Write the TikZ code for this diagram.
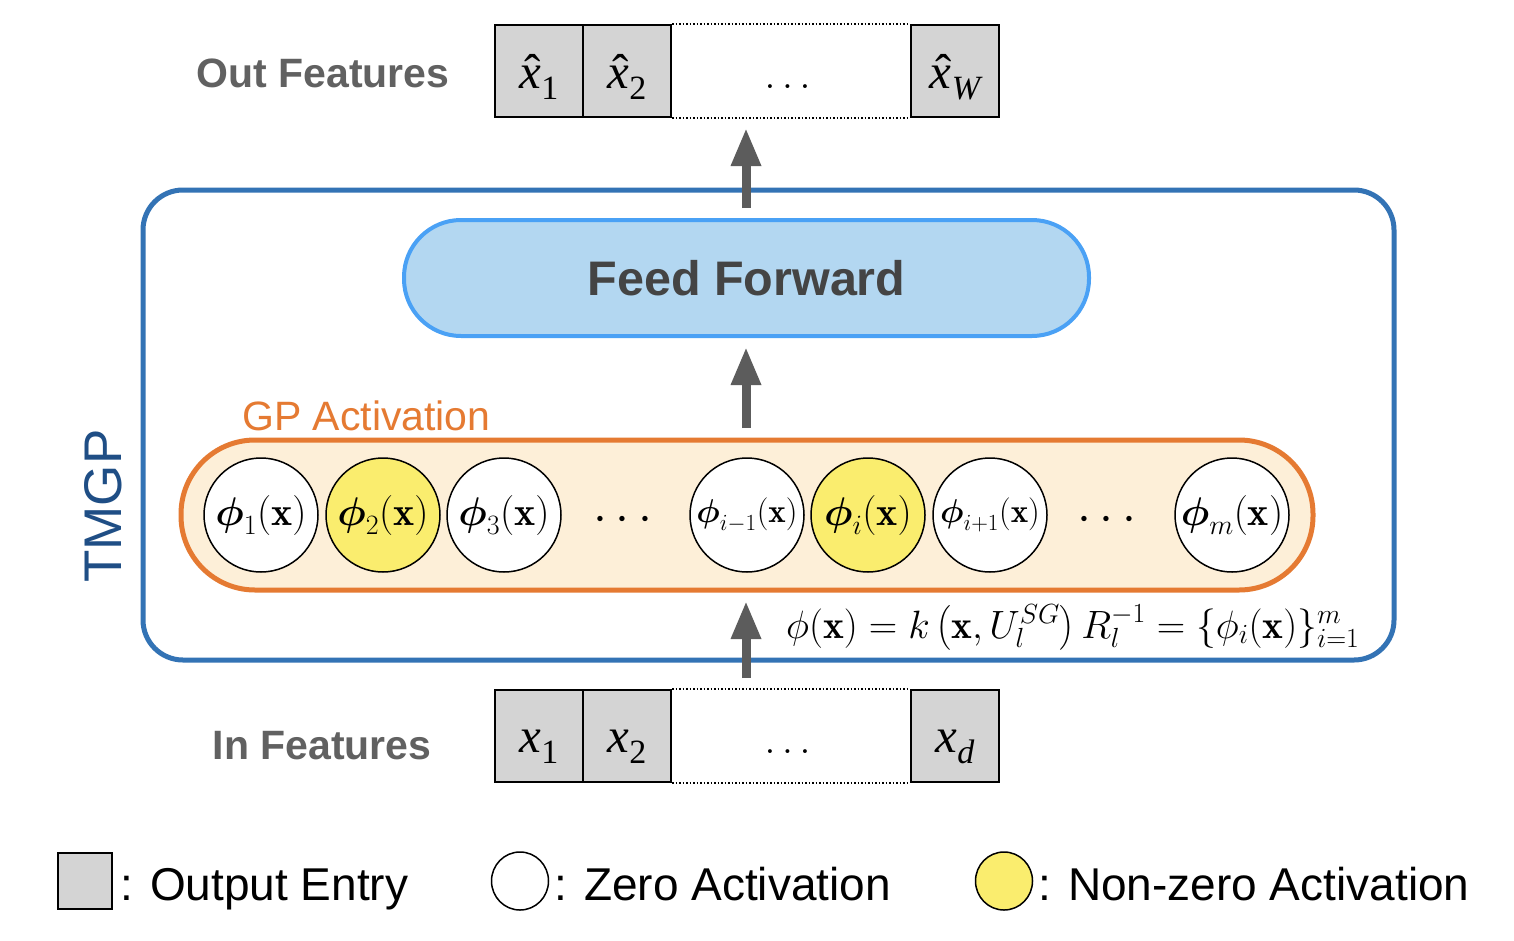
\RequirePackage{fix-cm}
\documentclass[tikz,border=0pt]{standalone}
\usepackage{amsmath}
\usepackage{fontspec}
\newfontfamily\sansf{Liberation Sans}
\newfontfamily\libser{Liberation Serif}
\usetikzlibrary{arrows.meta,shapes.geometric}
\definecolor{tmgpblue}{RGB}{51,115,181}
\definecolor{tmgptext}{RGB}{31,78,133}
\definecolor{ffborder}{RGB}{74,161,245}
\definecolor{fffill}{RGB}{179,215,241}
\definecolor{fftext}{RGB}{68,68,68}
\definecolor{gporange}{RGB}{229,122,50}
\definecolor{gpfill}{RGB}{253,239,216}
\definecolor{yel}{RGB}{250,237,110}
\definecolor{cellgray}{RGB}{212,212,212}
\definecolor{arrowgray}{RGB}{92,92,92}
\definecolor{labelgray}{RGB}{97,97,97}
\newcommand{\fsz}[1]{\fontsize{#1}{#1}\selectfont}
\newcommand{\xx}{{\libser\fsz{49}\itshape x}}
\newcommand{\xh}{\rlap{\xx}\makebox[21.8pt][c]{\hspace{5pt}\libser\fsz{49}\char"02C6}}
\newcommand{\sub}[1]{\raisebox{-11pt}{\libser\fsz{34}#1}}
\tikzset{
  cell/.style={draw=black, line width=2pt, fill=cellgray, minimum width=88pt, minimum height=92pt, inner sep=0pt},
  celltext/.style={anchor=base, inner sep=0pt},
  act/.style={circle, draw=black, line width=1.5pt, fill=white, minimum size=114pt, inner sep=0pt, font=\fsz{40}},
  actyel/.style={act, fill=yel},
  bigarrow/.style={draw=arrowgray, line width=9pt, -{Triangle[width=28pt,length=38pt]}, shorten <=12pt, shorten >=11pt},
  flabel/.style={font=\sansf\bfseries\fsz{41}, text=labelgray},
  legtext/.style={font=\sansf\fsz{46}, anchor=base west, inner sep=0pt},
}
\begin{document}
\begin{tikzpicture}[x=1pt,y=-1pt]
\useasboundingbox[fill=white] (0,0) rectangle (1514,940);
% TMGP outer box
\node[draw=tmgpblue, line width=5pt, rounded corners=40pt, minimum width=1251pt, minimum height=470pt] (tmgp) at (768.5,425) {};
\node[rotate=90, font=\sansf\fsz{53}, text=tmgptext] (tmgplabel) at (103,506) {TMGP};
% Feed forward
\node[draw=ffborder, fill=fffill, line width=4pt, rounded corners=57pt, minimum width=685pt, minimum height=116pt, font=\sansf\bfseries\fsz{48.5}, text=fftext] (ff) at (746.5,278) {Feed Forward};
% GP activation
\node[draw=gporange, fill=gpfill, line width=5pt, rounded corners=74pt, minimum width=1132pt, minimum height=150pt] (gp) at (747,515) {};
\node[anchor=base west, inner sep=0pt, font=\sansf\fsz{41}, text=gporange] (gplabel) at (242,430) {GP Activation};
% activations
\node[act] (p1) at (261,515) {$\boldsymbol{\phi}_1(\mathbf{x})$};
\node[actyel] (p2) at (383,515) {$\boldsymbol{\phi}_2(\mathbf{x})$};
\node[act] (p3) at (504,515) {$\boldsymbol{\phi}_3(\mathbf{x})$};
\node[inner sep=0pt, font=\fsz{50}] (d1) at (627,520) {$\cdots$};
\node[act, font=\fsz{33}] (pim) at (747,515) {$\boldsymbol{\phi}_{i-1}(\mathbf{x})$};
\node[actyel] (pi) at (868,515) {$\boldsymbol{\phi}_i(\mathbf{x})$};
\node[act, font=\fsz{33}] (pip) at (990,515) {$\boldsymbol{\phi}_{i+1}(\mathbf{x})$};
\node[inner sep=0pt, font=\fsz{50}] (d2) at (1111,520) {$\cdots$};
\node[act] (pm) at (1232,515) {$\boldsymbol{\phi}_m(\mathbf{x})$};
% equation
\node[anchor=base west, inner sep=0pt, font=\fsz{39.5}] (eq) at (786,638) {$\phi(\mathbf{x}) = k\left(\mathbf{x}, U_l^{SG}\right) R_l^{-1} = \{\phi_i(\mathbf{x})\}_{i=1}^m$};
% Out features
\node[flabel] (outlabel) at (323,73) {Out Features};
\node[cell] (o1) at (539,71) {};
\node[cell] (o2) at (627,71) {};
\node[cell] (ow) at (955,71) {};
\node[celltext] (o1t) at ([yshift=-17pt]o1.center) {\xh\sub{1}};
\node[celltext] (o2t) at ([yshift=-17pt]o2.center) {\xh\sub{2}};
\node[celltext] (owt) at ([yshift=-17pt]ow.center) {\xh\sub{\itshape W}};
\draw[line width=1.5pt, dotted] (o2.north east) -- (ow.north west);
\draw[line width=1.5pt, dotted] (o2.south east) -- (ow.south west);
\node[anchor=base, inner sep=0pt, font=\fsz{40}] (odots) at (791,88) {$\dots$};
% In features
\node[flabel] (inlabel) at (322,746) {In Features};
\node[cell] (i1) at (539,736) {};
\node[cell] (i2) at (627,736) {};
\node[cell] (id) at (955,736) {};
\node[celltext] (i1t) at ([yshift=-16pt]i1.center) {\xx\sub{1}};
\node[celltext] (i2t) at ([yshift=-16pt]i2.center) {\xx\sub{2}};
\node[celltext] (idt) at ([yshift=-16pt]id.center) {\xx\sub{\itshape d}};
\draw[line width=1.5pt, dotted] (i2.north east) -- (id.north west);
\draw[line width=1.5pt, dotted] (i2.south east) -- (id.south west);
\node[anchor=base, inner sep=0pt, font=\fsz{40}] (idots) at (791,753) {$\dots$};
% arrows
\coordinate (ffbot) at (746,336);
\coordinate (gptop) at (746,440);
\coordinate (gpbot) at (746,590);
\coordinate (intop) at (746,690);
\coordinate (fftop) at (746,220);
\coordinate (outbot) at (746,117);
\draw[bigarrow] (intop) -- (gpbot);
\draw[bigarrow] (gptop) -- (ffbot);
\draw[bigarrow] (fftop) -- (outbot);
% legend
\node[draw=black, line width=1.5pt, fill=cellgray, minimum width=54pt, minimum height=56pt, inner sep=0pt] (lg1) at (85,881) {};
\node[legtext] (lt1) at (120,900) {: Output Entry};
\node[ellipse, draw=black, line width=1.5pt, fill=white, minimum width=57pt, minimum height=58pt, inner sep=0pt] (lg2) at (520,881) {};
\node[legtext] (lt2) at (554,900) {: Zero Activation};
\node[ellipse, draw=black, line width=1.5pt, fill=yel, minimum width=57pt, minimum height=58pt, inner sep=0pt] (lg3) at (1004,881) {};
\node[legtext] (lt3) at (1038,900) {: Non-zero Activation};
\end{tikzpicture}
\end{document}
